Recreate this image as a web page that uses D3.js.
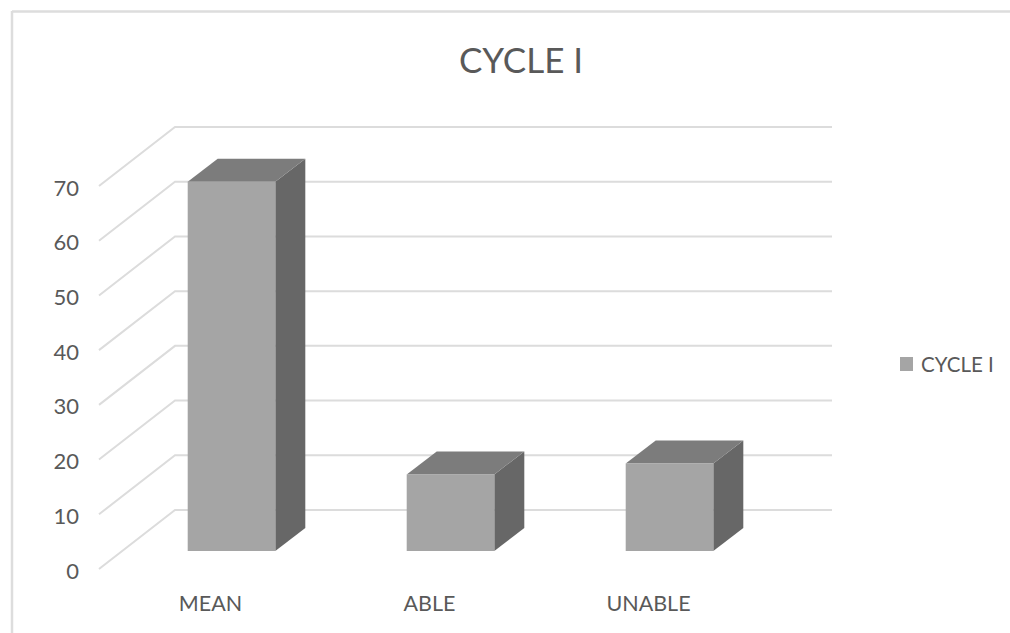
<!DOCTYPE html>
<html>
<head>
<meta charset="utf-8">
<script src="https://cdnjs.cloudflare.com/ajax/libs/d3/7.8.5/d3.min.js"></script>
<style>
  html, body { margin: 0; padding: 0; background: #fff; }
  svg { display: block; }
  text { font-family: Lato, "Open Sans", sans-serif; fill: #595959; }
</style>
</head>
<body>
<svg id="chart" width="1010" height="633"></svg>
<script>
// Single-series 3D column chart
const chartTitle = "CYCLE I";
const seriesName = "CYCLE I";
const categories = ["MEAN", "ABLE", "UNABLE"];
const seriesValues = [67.5, 14, 16];
const yTicks = [0, 10, 20, 30, 40, 50, 60, 70];

const FRONT_FILL = "#a5a5a5", TOP_FILL = "#7c7c7c", SIDE_FILL = "#676767";
const GRID = "#dcdcdc", FRAME = "#dddddd";

const svg = d3.select("#chart");

// Back wall of the 3D box
const wall = { left: 175, right: 832, top: 127, bottom: 510 };
// Offset from the back wall to the front edge of the floor
const floorDepth = { dx: -76, dy: 59 };
// Offset from the back wall to the front face of a column
const barFront = { dx: -53, dy: 41 };
// Depth of a column, front face to back face
const barDepth = { dx: 30, dy: -23 };

const y = d3.scaleLinear().domain([0, 70]).range([wall.bottom, wall.top]);
const x = d3.scaleBand().domain(categories).range([wall.left, wall.right])
  .paddingInner(0.6).paddingOuter(0.3);

// Chart frame: only the top and left edges are visible
svg.append("line").attr("x1", 12).attr("x2", 1010).attr("y1", 11.5).attr("y2", 11.5)
  .attr("stroke", FRAME).attr("stroke-width", 2.5);
svg.append("line").attr("x1", 12).attr("x2", 12).attr("y1", 11).attr("y2", 633)
  .attr("stroke", FRAME).attr("stroke-width", 2.5);

// Title
svg.append("text").attr("x", 521).attr("y", 73).attr("text-anchor", "middle")
  .style("font-size", "35px").text(chartTitle);

// Gridlines: floor/side diagonal plus the run along the back wall
const gridPath = d3.line();
svg.append("g").selectAll("path").data(yTicks).join("path")
  .attr("fill", "none").attr("stroke", GRID).attr("stroke-width", 2)
  .attr("d", v => gridPath([
    [wall.left + floorDepth.dx, y(v) + floorDepth.dy],
    [wall.left, y(v)],
    [wall.right, y(v)]
  ]));

// Value axis sits on the front edge of the side wall
const yAxis = svg.append("g")
  .attr("transform", `translate(${wall.left + floorDepth.dx - 12},${floorDepth.dy + 2})`)
  .call(d3.axisLeft(y).tickValues(yTicks).tickSize(0).tickPadding(8));
yAxis.select(".domain").remove();
yAxis.selectAll("text").style("font-size", "22px").style("fill", "#595959");

// Category axis below the floor
const xAxis = svg.append("g")
  .attr("transform", `translate(${floorDepth.dx + 2},${wall.bottom + floorDepth.dy + 21})`)
  .call(d3.axisBottom(x).tickSize(0).tickPadding(6));
xAxis.select(".domain").remove();
xAxis.selectAll("text").style("font-size", "21.5px").style("fill", "#595959");

// Columns: front, top and side faces
const bars = svg.append("g").selectAll("g")
  .data(categories.map((c, i) => ({ c, v: seriesValues[i] })))
  .join("g");

const corners = d => {
  const x0 = x(d.c) + barFront.dx, x1 = x0 + x.bandwidth();
  const y0 = y(0) + barFront.dy, y1 = y(d.v) + barFront.dy;
  return { x0, x1, y0, y1 };
};
const polygon = pts => pts.map(p => p.join(",")).join(" ");

bars.append("polygon").attr("fill", SIDE_FILL).attr("points", d => {
  const { x1, y0, y1 } = corners(d);
  return polygon([[x1, y1], [x1 + barDepth.dx, y1 + barDepth.dy],
                  [x1 + barDepth.dx, y0 + barDepth.dy], [x1, y0]]);
});
bars.append("polygon").attr("fill", TOP_FILL).attr("points", d => {
  const { x0, x1, y1 } = corners(d);
  return polygon([[x0, y1], [x0 + barDepth.dx, y1 + barDepth.dy],
                  [x1 + barDepth.dx, y1 + barDepth.dy], [x1, y1]]);
});
bars.append("rect").attr("fill", FRONT_FILL)
  .attr("x", d => corners(d).x0).attr("y", d => corners(d).y1)
  .attr("width", x.bandwidth()).attr("height", d => corners(d).y0 - corners(d).y1);

// Legend
const legend = svg.append("g").attr("transform", "translate(900,357)");
legend.append("rect").attr("width", 13).attr("height", 14).attr("fill", FRONT_FILL);
legend.append("text").attr("x", 21).attr("y", 15).style("font-size", "20.5px").text(seriesName);
</script>
</body>
</html>
